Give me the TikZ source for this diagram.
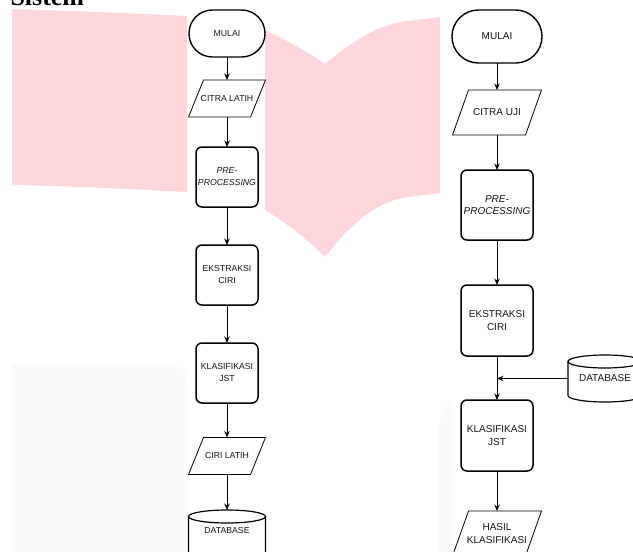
\documentclass[tikz,border=0pt]{standalone}
\usepackage{fontspec}
\setmainfont{Liberation Sans}
\newfontfamily\serifbold{Liberation Serif}
\usetikzlibrary{arrows.meta}
\definecolor{pinkwm}{RGB}{255,214,219}
\definecolor{greywm}{RGB}{250,250,250}
\definecolor{txt}{RGB}{20,20,20}
\begin{document}
\begin{tikzpicture}[x=1pt,y=-1pt,
  txtL/.style={font=\fontsize{8.7}{12}\selectfont, align=center, text=txt},
  txtR/.style={font=\fontsize{10}{12.5}\selectfont, align=center, text=txt},
  base/.style={inner sep=0pt, outer sep=0pt},
  procL/.style={base, txtL, draw, line width=1.5pt, rounded corners=6pt, minimum width=62pt, minimum height=60pt},
  procR/.style={base, txtR, draw, line width=1.5pt, rounded corners=6pt, minimum width=72pt, minimum height=71pt},
  ioL/.style={base, txtL, minimum width=77pt, minimum height=37pt},
  ioR/.style={base, txtR, minimum width=89pt, minimum height=45pt},
  ioline/.style={draw, line width=0.8pt, line join=miter},
  cylline/.style={draw, line width=1.2pt},
  arr/.style={draw, line width=0.8pt, -{Stealth[length=6.5pt,width=5.5pt]}}]
\useasboundingbox (0,0) rectangle (633,552);
\clip (0,0) rectangle (633,552);

% background watermark shapes
\fill[pinkwm] (12,9) .. controls (70,11) and (130,13) .. (187,16) -- (187,192) .. controls (130,189) and (70,186) .. (12,185) -- cycle;
\fill[pinkwm] (265,30) .. controls (288,41) and (308,52) .. (325,64)
  .. controls (352,42) and (378,24) .. (408,21) -- (440,17) -- (440,193) -- (408,197)
  .. controls (378,201) and (352,222) .. (325,257)
  .. controls (308,240) and (288,224) .. (265,210) -- cycle;
\fill[greywm] (12,365) -- (172,365) .. controls (181,365) and (187,371) .. (187,380) -- (187,552) -- (12,552) -- cycle;
\fill[greywm] (452,400) .. controls (444,405) and (438,420) .. (437,440) -- (437,552) -- (452,552) -- cycle;

% title fragment
\node[base, anchor=base west, font=\serifbold\bfseries\fontsize{26}{26}\selectfont, text=black] (title) at (10.5,5.5) {Sistem};

% ---------- left flowchart ----------
\node[base, txtL, draw, line width=1.4pt, minimum width=76pt, minimum height=47pt, rounded corners=23.4pt] (mL) at (227,33.5) {MULAI};
\node[ioL] (cL) at (227,98.5) {CITRA LATIH};
\path[ioline] ([xshift=15pt]cL.north west) -- (cL.north east) -- ([xshift=-15pt]cL.south east) -- (cL.south west) -- cycle;
\node[procL] (pL) at (227,177) {\itshape PRE-\\\itshape PROCESSING};
\node[procL] (eL) at (227,275) {EKSTRAKSI\\CIRI};
\node[procL] (kL) at (227,373) {KLASIFIKASI\\JST};
\node[ioL] (ciL) at (227,456) {CIRI LATIH};
\path[ioline] ([xshift=15pt]ciL.north west) -- (ciL.north east) -- ([xshift=-15pt]ciL.south east) -- (ciL.south west) -- cycle;
\node[base, txtL, minimum width=77pt, minimum height=42pt] (dL) at (227,531) {DATABASE};
\path[cylline] ([yshift=-6.5pt]dL.north) ellipse [x radius=38.5pt, y radius=6.5pt];
\path[cylline] ([yshift=-6.5pt]dL.north west) -- ([yshift=-1.5pt]dL.south west)
  arc[start angle=180, end angle=360, x radius=38.5pt, y radius=6.5pt] -- ([yshift=-6.5pt]dL.north east);

\draw[arr] (mL.south) -- (cL.north);
\draw[arr] (cL.south) -- (pL.north);
\draw[arr] (pL.south) -- (eL.north);
\draw[arr] (eL.south) -- (kL.north);
\draw[arr] (kL.south) -- (ciL.north);
\draw[arr] (ciL.south) -- (dL.north);

% ---------- right flowchart ----------
\node[base, txtR, draw, line width=1.4pt, minimum width=90pt, minimum height=53pt, rounded corners=26.4pt] (mR) at (497,36.5) {MULAI};
\node[ioR] (cR) at (497,112.5) {CITRA UJI};
\path[ioline] ([xshift=16pt]cR.north west) -- (cR.north east) -- ([xshift=-16pt]cR.south east) -- (cR.south west) -- cycle;
\node[procR, minimum height=70pt] (pR) at (497,205) {\itshape PRE-\\\itshape PROCESSING};
\node[procR] (eR) at (497,320.5) {EKSTRAKSI\\CIRI};
\node[procR] (kR) at (497,435.5) {KLASIFIKASI\\JST};
\node[ioR] (hR) at (497,533.5) {HASIL\\KLASIFIKASI};
\path[ioline] ([xshift=16pt]hR.north west) -- (hR.north east) -- ([xshift=-16pt]hR.south east) -- (hR.south west) -- cycle;
\node[base, txtR, minimum width=74pt, minimum height=47pt] (dR) at (605,378.5) {DATABASE};
\path[cylline] ([yshift=-6.5pt]dR.north) ellipse [x radius=37pt, y radius=6.5pt];
\path[cylline] ([yshift=-6.5pt]dR.north west) -- ([yshift=6.5pt]dR.south west)
  arc[start angle=180, end angle=360, x radius=37pt, y radius=6.5pt] -- ([yshift=-6.5pt]dR.north east);
\coordinate (jR) at (eR.south |- dR.west);

\draw[arr] (mR.south) -- (cR.north);
\draw[arr] (cR.south) -- (pR.north);
\draw[arr] (pR.south) -- (eR.north);
\draw[arr] (eR.south) -- (kR.north);
\draw[arr] (dR.west) -- (jR);
\draw[arr] (kR.south) -- (hR.north);
\end{tikzpicture}
\end{document}
